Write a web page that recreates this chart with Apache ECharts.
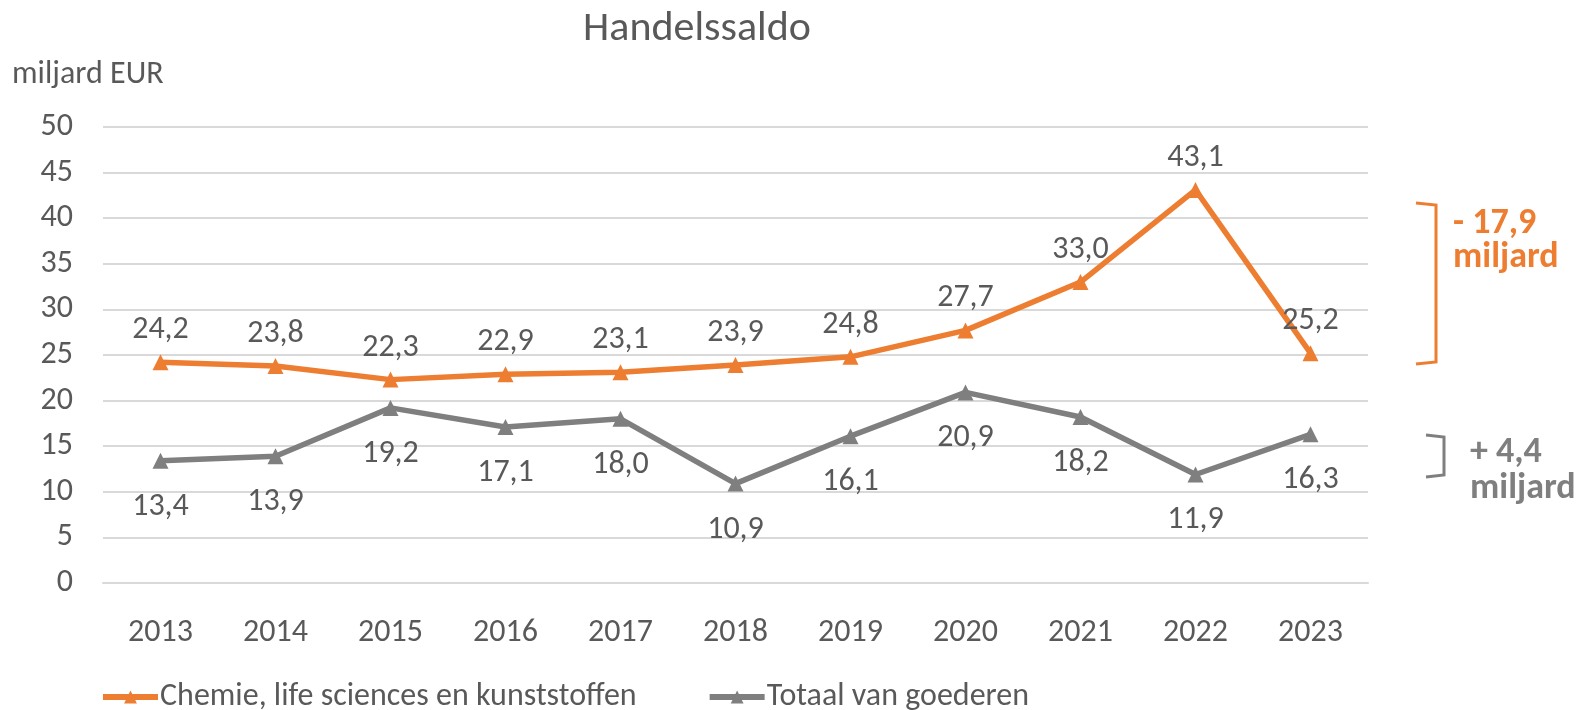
<!DOCTYPE html>
<html>
<head>
<meta charset="utf-8">
<script src="https://cdn.jsdelivr.net/npm/echarts@6/dist/echarts.min.js"></script>
<style>
html, body { margin: 0; padding: 0; background: #fff; }
#graph1 { width: 1577px; height: 710px; }
</style>
</head>
<body>
<div id="graph1"></div>
<script>
var years = ['2013', '2014', '2015', '2016', '2017', '2018', '2019', '2020', '2021', '2022', '2023'];
var chemie = [24.2, 23.8, 22.3, 22.9, 23.1, 23.9, 24.8, 27.7, 33.0, 43.1, 25.2];
var totaal = [13.4, 13.9, 19.2, 17.1, 18.0, 10.9, 16.1, 20.9, 18.2, 11.9, 16.3];
var yTicks = [0, 5, 10, 15, 20, 25, 30, 35, 40, 45, 50];

var fontName = 'Carlito, Lato, "Open Sans", sans-serif';
var textGrey = '#595959';
var fmt = function (p) {
    return p.value.toFixed(1).replace('.', ',');
};

option1 = {
    backgroundColor: '#fff',
    textStyle: { fontFamily: fontName },
    title: {
        text: 'Handelssaldo',
        left: 692,
        top: 3,
        textAlign: 'center',
        textStyle: { color: textGrey, fontSize: 42, fontWeight: 'normal', fontFamily: fontName }
    },
    legend: {
        top: 676,
        left: 95,
        itemGap: 70,
        itemWidth: 55,
        itemHeight: 16,
        lineStyle: { width: 6 },
        textStyle: { color: textGrey, fontSize: 32, fontFamily: fontName, padding: [0, 0, 0, -3] },
        data: ['Chemie, life sciences en kunststoffen', 'Totaal van goederen']
    },
    grid: { left: 103, right: 209, top: 127, bottom: 127 },
    xAxis: {
        type: 'category',
        data: years,
        boundaryGap: true,
        axisLine: { lineStyle: { color: '#d9d9d9', width: 2 } },
        axisTick: { show: false },
        axisLabel: { color: textGrey, fontSize: 32, margin: 34, fontFamily: fontName }
    },
    yAxis: {
        type: 'value',
        min: yTicks[0],
        max: yTicks[yTicks.length - 1],
        interval: 5,
        name: 'miljard EUR',
        nameLocation: 'end',
        nameGap: 36,
        nameTextStyle: { color: textGrey, fontSize: 32, align: 'left', padding: [0, 0, 0, -91], fontFamily: fontName },
        axisLine: { show: false },
        axisTick: { show: false },
        splitLine: { lineStyle: { color: '#d9d9d9', width: 2 } },
        axisLabel: { color: textGrey, fontSize: 32, margin: 30, fontFamily: fontName }
    },
    series: [{
        name: 'Chemie, life sciences en kunststoffen',
        type: 'line',
        data: chemie,
        symbol: 'triangle',
        symbolSize: 16,
        lineStyle: { color: '#ed7d31', width: 5.5 },
        itemStyle: { color: '#ed7d31' },
        label: { show: true, position: 'top', distance: 8, color: textGrey, fontSize: 32, formatter: fmt, fontFamily: fontName }
    }, {
        name: 'Totaal van goederen',
        type: 'line',
        data: totaal,
        symbol: 'triangle',
        symbolSize: 16,
        lineStyle: { color: '#7f7f7f', width: 5.5 },
        itemStyle: { color: '#7f7f7f' },
        label: { show: true, position: 'bottom', distance: 22, color: textGrey, fontSize: 32, formatter: fmt, fontFamily: fontName }
    }],
    graphic: [{
        type: 'polyline',
        shape: { points: [[1416, 203], [1436, 205], [1436, 362], [1416, 364]] },
        style: { stroke: '#ed7d31', lineWidth: 3, fill: null }
    }, {
        type: 'text',
        style: { x: 1453, y: 224, text: '- 17,9', verticalAlign: 'middle', fill: '#ed7d31', font: 'bold 36px ' + fontName }
    }, {
        type: 'text',
        style: { x: 1453, y: 258, text: 'miljard', verticalAlign: 'middle', fill: '#ed7d31', font: 'bold 36px ' + fontName }
    }, {
        type: 'polyline',
        shape: { points: [[1426, 435], [1444, 437], [1444, 475], [1426, 477]] },
        style: { stroke: '#7f7f7f', lineWidth: 3, fill: null }
    }, {
        type: 'text',
        style: { x: 1470, y: 453, text: '+ 4,4', verticalAlign: 'middle', fill: '#7f7f7f', font: 'bold 36px ' + fontName }
    }, {
        type: 'text',
        style: { x: 1470, y: 489, text: 'miljard', verticalAlign: 'middle', fill: '#7f7f7f', font: 'bold 36px ' + fontName }
    }]
};

var myChart = echarts.init(document.getElementById('graph1'));
myChart.setOption(option1);
</script>
</body>
</html>
